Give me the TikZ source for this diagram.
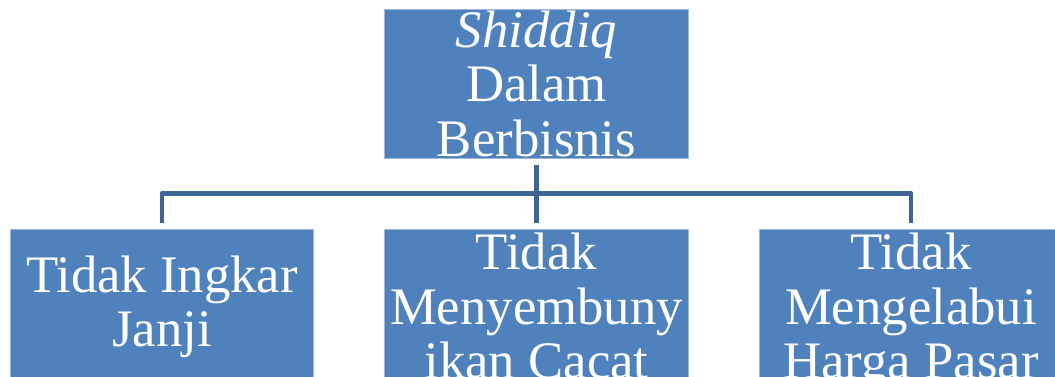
\documentclass[tikz,border=0pt]{standalone}
\usepackage{fontspec}
\setmainfont{Liberation Serif}
\usepackage{xcolor}
\usetikzlibrary{positioning}
\definecolor{boxblue}{HTML}{4F81BD}
\definecolor{edgeblue}{HTML}{9DB6DA}
\definecolor{linkblue}{HTML}{3D6697}
\begin{document}
\begin{tikzpicture}[
  box/.style={rectangle, draw=edgeblue, line width=0.5pt, fill=boxblue, minimum width=6.07cm, minimum height=2.97cm, inner sep=0pt},
  lbl/.style={text=white, inner sep=0pt, anchor=north, align=center, font=\fontsize{30}{31}\selectfont},
  conn/.style={draw=linkblue, line width=2.6pt, shorten <=0.12cm, shorten >=0.12cm}
]
\useasboundingbox (0,0) rectangle (21.1,7.54);
\node[box] (sh) at (10.73,5.86) {};
\node[box] (janji) at (3.24,1.468) {};
\node[box] (cacat) at (10.73,1.468) {};
\node[box] (harga) at (18.22,1.468) {};
\node[lbl] (shtext) at ([yshift=-0.02cm]sh.north) {\textit{Shiddiq}\\Dalam\\Berbisnis};
\node[lbl] (janjitext) at ([yshift=-0.53cm]janji.north) {Tidak Ingkar\\Janji};
\node[lbl] (cacattext) at ([yshift=-0.08cm]cacat.north) {Tidak\\Menyembuny\\ikan Cacat};
\node[lbl] (hargatext) at ([yshift=-0.08cm]harga.north) {Tidak\\Mengelabui\\Harga Pasar};
\coordinate (bar) at (10.73,3.674);
\draw[conn, line join=round] (janji.north) |- (bar) -| (harga.north);
\draw[conn] (sh.south) -- (cacat.north);
\end{tikzpicture}
\end{document}
